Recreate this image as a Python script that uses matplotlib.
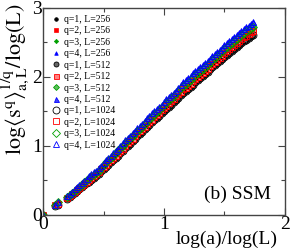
import numpy as np
import matplotlib
matplotlib.use("Agg")
import matplotlib.pyplot as plt

plt.rcParams['font.family'] = ['Liberation Serif', 'DejaVu Serif']
plt.rcParams['mathtext.fontset'] = 'stix'

# log(a)/log(L) positions (the three sizes collapse onto one curve)
x_pts = [0.00, 0.10, 0.125,
         0.20, 0.22, 0.24, 0.26, 0.28, 0.30, 0.32, 0.34, 0.36, 0.38, 0.40, 0.42, 0.44, 0.46,
         0.48, 0.50, 0.52, 0.54, 0.56, 0.58, 0.60, 0.62, 0.64, 0.66, 0.68, 0.70, 0.72, 0.74,
         0.76, 0.78, 0.80, 0.82, 0.84, 0.86, 0.88, 0.90, 0.92, 0.94, 0.96, 0.98, 1.00, 1.02,
         1.04, 1.06, 1.08, 1.10, 1.12, 1.14, 1.16, 1.18, 1.20, 1.22, 1.24, 1.26, 1.28, 1.30,
         1.32, 1.34, 1.36, 1.38, 1.40, 1.42, 1.44, 1.46, 1.48, 1.50, 1.52, 1.54, 1.56, 1.58,
         1.60, 1.62, 1.64, 1.66, 1.68, 1.70, 1.72, 1.74]

# log<s^q>^(1/q) / log(L), one list per q
y_q1 = [0.00, 0.13, 0.15,
        0.23, 0.26, 0.29, 0.32, 0.34, 0.37, 0.40, 0.43, 0.46, 0.48, 0.51, 0.53, 0.56, 0.60,
        0.63, 0.66, 0.69, 0.72, 0.76, 0.80, 0.83, 0.86, 0.90, 0.93, 0.97, 1.00, 1.03, 1.07,
        1.10, 1.14, 1.17, 1.20, 1.24, 1.27, 1.30, 1.34, 1.37, 1.40, 1.43, 1.47, 1.50, 1.54,
        1.57, 1.60, 1.63, 1.67, 1.70, 1.74, 1.77, 1.80, 1.82, 1.86, 1.89, 1.92, 1.95, 1.98,
        2.01, 2.04, 2.07, 2.11, 2.14, 2.17, 2.20, 2.23, 2.26, 2.29, 2.32, 2.35, 2.37, 2.40,
        2.43, 2.46, 2.49, 2.52, 2.54, 2.57, 2.59, 2.61]
y_q2 = [0.00, 0.14, 0.16,
        0.24, 0.27, 0.30, 0.33, 0.36, 0.39, 0.42, 0.45, 0.48, 0.51, 0.54, 0.56, 0.59, 0.62,
        0.66, 0.69, 0.72, 0.76, 0.79, 0.82, 0.86, 0.90, 0.93, 0.96, 1.00, 1.04, 1.07, 1.10,
        1.14, 1.18, 1.21, 1.24, 1.28, 1.32, 1.35, 1.38, 1.42, 1.45, 1.48, 1.52, 1.55, 1.58,
        1.62, 1.65, 1.68, 1.72, 1.75, 1.78, 1.82, 1.84, 1.87, 1.90, 1.94, 1.97, 2.00, 2.03,
        2.06, 2.09, 2.12, 2.16, 2.19, 2.22, 2.25, 2.28, 2.31, 2.34, 2.37, 2.40, 2.43, 2.46,
        2.49, 2.52, 2.55, 2.58, 2.60, 2.62, 2.65, 2.67]
y_q3 = [0.00, 0.14, 0.18,
        0.26, 0.29, 0.32, 0.35, 0.38, 0.41, 0.44, 0.47, 0.50, 0.53, 0.56, 0.58, 0.61, 0.64,
        0.68, 0.72, 0.76, 0.80, 0.83, 0.86, 0.90, 0.94, 0.97, 1.00, 1.04, 1.08, 1.11, 1.14,
        1.18, 1.22, 1.25, 1.28, 1.32, 1.36, 1.39, 1.42, 1.46, 1.49, 1.52, 1.56, 1.59, 1.62,
        1.66, 1.69, 1.72, 1.76, 1.80, 1.84, 1.87, 1.90, 1.93, 1.96, 2.00, 2.03, 2.06, 2.09,
        2.12, 2.15, 2.18, 2.22, 2.25, 2.28, 2.31, 2.34, 2.37, 2.40, 2.43, 2.46, 2.49, 2.52,
        2.55, 2.58, 2.61, 2.64, 2.66, 2.68, 2.71, 2.73]
y_q4 = [0.00, 0.15, 0.19,
        0.27, 0.30, 0.33, 0.37, 0.40, 0.43, 0.46, 0.49, 0.52, 0.56, 0.59, 0.62, 0.64, 0.68,
        0.71, 0.75, 0.79, 0.82, 0.86, 0.90, 0.93, 0.96, 1.00, 1.04, 1.08, 1.12, 1.15, 1.18,
        1.22, 1.26, 1.29, 1.32, 1.36, 1.40, 1.44, 1.48, 1.51, 1.54, 1.57, 1.60, 1.64, 1.68,
        1.71, 1.74, 1.77, 1.80, 1.84, 1.88, 1.92, 1.95, 1.98, 2.02, 2.05, 2.08, 2.11, 2.14,
        2.17, 2.20, 2.23, 2.26, 2.30, 2.33, 2.36, 2.39, 2.42, 2.46, 2.49, 2.52, 2.55, 2.58,
        2.61, 2.64, 2.67, 2.70, 2.72, 2.74, 2.77, 2.79]

q_values = [1, 2, 3, 4]
L_values = [256, 512, 1024]
y_by_q = [y_q1, y_q2, y_q3, y_q4]

colors = ['black', 'red', '#00a000', 'blue']
light = ['#666666', '#ff8080', '#60c060', '#4040ff']
markers = ['o', 's', 'D', '^']

fig = plt.figure(figsize=(2.91, 2.49), dpi=100)
ax = fig.add_axes([0.148, 0.137, 0.831, 0.831])

for L in L_values:
    for i in range(0, 4):
        lab = "q=" + str(q_values[i]) + ", L=" + str(L)
        if L == 256:
            ax.plot(x_pts, y_by_q[i], ls='none', marker=markers[i], ms=2.6 if i != 2 else 2.2,
                    mfc=colors[i], mec=colors[i], mew=0.5, label=lab)
        elif L == 512:
            ax.plot(x_pts, y_by_q[i], ls='none', marker=markers[i], ms=3.6 if i != 2 else 3.0,
                    mfc=light[i], mec=colors[i], mew=0.6, label=lab)
        else:
            ax.plot(x_pts, y_by_q[i], ls='none', marker=markers[i], ms=5.0 if i != 2 else 4.2,
                    mfc='none', mec=colors[i], mew=0.6, label=lab)

ax.set_xlim(0, 2)
ax.set_ylim(0, 3)
ax.set_xticks([0, 1, 2])
ax.set_yticks([0, 1, 2, 3])
ax.set_xticks([0.5, 1.5], minor=True)
ax.set_yticks([0.5, 1.5, 2.5], minor=True)
ax.tick_params(which='both', direction='in', top=True, right=True, labelsize=14, pad=1,
               color='#444444')
ax.tick_params(which='major', length=5, width=0.8)
ax.tick_params(which='minor', length=3, width=0.8)
for s in ax.spines.values():
    s.set_color('#444444')
    s.set_linewidth(1.0)

ax.set_xlabel("log(a)/log(L)", fontsize=14)
ax.xaxis.set_label_coords(0.76, -0.075)
ax.set_ylabel(r'$\mathrm{log}\langle \mathrm{s}^{\mathrm{q}}\rangle^{1/\mathrm{q}}_{\mathrm{a,L}}/\mathrm{log(L)}$',
              fontsize=16)
ax.yaxis.set_label_coords(-0.05, 0.655)

ax.text(0.806, 0.10, "(b) SSM", transform=ax.transAxes, fontsize=14, ha='center', va='center')

ax.legend(loc='upper left', bbox_to_anchor=(0.02, 0.985), frameon=False, fontsize=7,
          handlelength=0.8, handletextpad=0.5, labelspacing=0.25, borderaxespad=0.2,
          borderpad=0.2)

fig.savefig("out.png", dpi=100)
